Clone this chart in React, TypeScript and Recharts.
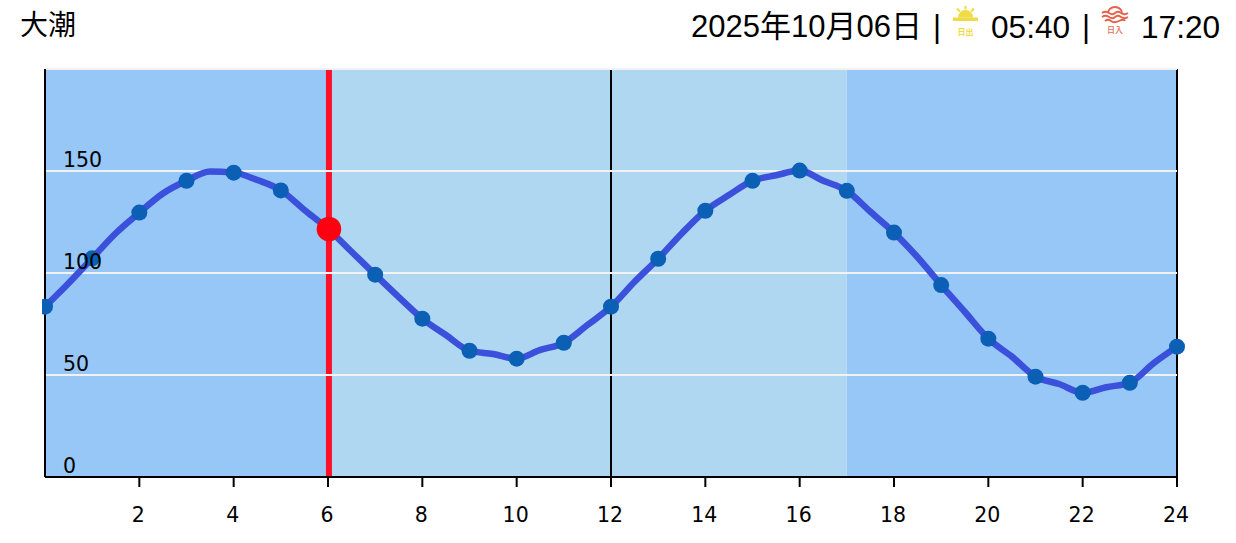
import { LineChart, Line, XAxis, YAxis, CartesianGrid, ReferenceArea, ReferenceLine, ReferenceDot } from 'recharts';

const hours = [0, 0.5, 1, 1.5, 2, 2.5, 3, 3.5, 4, 4.5, 5, 5.5, 6, 6.5, 7, 7.5, 8, 8.5, 9, 9.5, 10, 10.5, 11, 11.5, 12, 12.5, 13, 13.5, 14, 14.5, 15, 15.5, 16, 16.5, 17, 17.5, 18, 18.5, 19, 19.5, 20, 20.5, 21, 21.5, 22, 22.5, 23, 23.5, 24];
const tide = [83.5, 95, 107.2, 119.5, 129.6, 139, 145.2, 149.7, 149.2, 145.6, 140.5, 130.9, 121.6, 110.4, 99.2, 88.2, 77.6, 69.6, 61.9, 60.3, 58, 62.3, 65.8, 74.5, 83.5, 95.7, 107, 119.4, 130.5, 138.2, 145.2, 147.9, 150.2, 145.2, 140.3, 130, 119.8, 107.7, 94.1, 81, 67.8, 59, 49.2, 45.6, 41.3, 44, 46.2, 55.7, 63.9];
const xTicks = [2, 4, 6, 8, 10, 12, 14, 16, 18, 20, 22, 24];
const yTicks = [0, 50, 100, 150, 200];
const nightBands = [[0, 6], [17, 24]];
const dayBand = [6, 17];
const nowHour = 6.02;
const nowTide = 121.6;
const noon = 12;

const data = hours.map((h, i) => ({ h, tide: tide[i] }));

const headFont = '"Liberation Sans", "Noto Sans CJK JP", sans-serif';
const axisFont = '"DejaVu Sans", sans-serif';

function renderDot(props: any) {
   const { cx, cy, index, payload } = props;
   if (!Number.isInteger(payload.h)) return <g key={index} />;
   if (index === 0) {
      return (
         <g key={index}>
            <clipPath id="firstDot">
               <rect x={cx - 3} y={cy - 10} width={20} height={20} />
            </clipPath>
            <circle cx={cx} cy={cy} r={8} fill="#0b5fb4" clipPath="url(#firstDot)" />
         </g>
      );
   }
   return <circle key={index} cx={cx} cy={cy} r={8} fill="#0b5fb4" />;
}

function YTick({ y, payload }: any) {
   if (payload.value === 200) return <g />;
   return (
      <text x={63} y={y - 4} fontSize={20.5} fontFamily={axisFont} fill="#000">
         {payload.value}
      </text>
   );
}

function XTick({ x, y, payload }: any) {
   return (
      <text x={x - 1} y={y + 33} textAnchor="middle" fontSize={20.5} fontFamily={axisFont} fill="#000">
         {payload.value}
      </text>
   );
}

function HeadText({ left, size = 31, children }: { left: number; size?: number; children: React.ReactNode }) {
   return (
      <span style={{ position: 'absolute', left, top: 9, fontFamily: headFont, fontSize: size, lineHeight: '36px', color: '#000', whiteSpace: 'nowrap' }}>
         {children}
      </span>
   );
}

function SunriseIcon({ left }: { left: number }) {
   return (
      <svg width={30} height={34} style={{ position: 'absolute', left, top: 5 }}>
         <path d="M6 12.5 A7.5 7.5 0 0 1 21 12.5 Z" fill="#efdc45" />
         <rect x={1} y={12.5} width={25} height={3.5} fill="#efdc45" />
         <path d="M13.5 1 V4.5 M5 3.5 L8 6.5 M22 3.5 L19 6.5" stroke="#efdc45" strokeWidth={2} />
         <text x={13.5} y={30} textAnchor="middle" fontSize={8} fontWeight={700} fontFamily={headFont} fill="#efdc45">日出</text>
      </svg>
   );
}

function SunsetIcon({ left }: { left: number }) {
   return (
      <svg width={30} height={34} style={{ position: 'absolute', left, top: 5 }}>
         <path d="M7 8 A7 6 0 0 1 21 8" fill="none" stroke="#e9604a" strokeWidth={1.8} />
         <path d="M1 8 Q4.5 5.5 8 8 T14 8 T20 8 T27 8 M1 12 Q4.5 9.5 8 12 T14 12 T20 12 T27 12 M4 16 Q7 13.5 10 16 T18 16 T24 16" fill="none" stroke="#e9604a" strokeWidth={1.8} />
         <text x={14} y={28} textAnchor="middle" fontSize={8} fontWeight={700} fontFamily={headFont} fill="#e98474">日入</text>
      </svg>
   );
}

export default function App() {
   return (
      <div style={{ position: 'absolute', left: 0, top: 0, width: 1236, height: 543, overflow: 'hidden', background: '#fff' }}>
         <span style={{ position: 'absolute', left: 20, top: 9, fontFamily: headFont, fontSize: 28, lineHeight: '34px', color: '#000' }}>大潮</span>
         <HeadText left={691}>2025年10月06日</HeadText>
         <HeadText left={933}>|</HeadText>
         <SunriseIcon left={952} />
         <HeadText left={991} size={31.6}>05:40</HeadText>
         <HeadText left={1082}>|</HeadText>
         <SunsetIcon left={1101} />
         <HeadText left={1141} size={31.6}>17:20</HeadText>

         <LineChart width={1236} height={543} data={data} margin={{ top: 69, right: 59, bottom: 0, left: 44 }}>
            {nightBands.map((b) => (
               <ReferenceArea key={b[0]} x1={b[0]} x2={b[1]} y1={0} y2={200} fill="#97c7f7" fillOpacity={1} stroke="none" />
            ))}
            <ReferenceArea x1={dayBand[0]} x2={dayBand[1]} y1={0} y2={200} fill="#afd7f1" fillOpacity={1} stroke="none" />
            <ReferenceLine x={nowHour} stroke="#ff1028" strokeWidth={6} zIndex={150} />
            <ReferenceLine x={noon} stroke="#000" strokeWidth={2} zIndex={150} />
            <ReferenceLine x={24} stroke="#000" strokeWidth={2} zIndex={150} />
            <CartesianGrid vertical={false} stroke="#f2f2f2" strokeWidth={2} zIndex={200} />
            <XAxis
               dataKey="h"
               type="number"
               domain={[0, 24]}
               ticks={xTicks}
               tick={<XTick />}
               tickSize={10}
               height={66}
               axisLine={{ stroke: '#000', strokeWidth: 2 }}
               tickLine={{ stroke: '#000', strokeWidth: 2 }}
            />
            <Line dataKey="tide" type="monotone" stroke="#3b50db" strokeWidth={6.5} dot={renderDot} activeDot={false} isAnimationActive={false} />
            <ReferenceDot x={nowHour} y={nowTide} r={12.3} fill="#ff0010" stroke="none" />
            <YAxis
               type="number"
               domain={[0, 200]}
               ticks={yTicks}
               tick={<YTick />}
               width={1}
               tickLine={false}
               axisLine={{ stroke: '#000', strokeWidth: 2 }}
            />
         </LineChart>
      </div>
   );
}
